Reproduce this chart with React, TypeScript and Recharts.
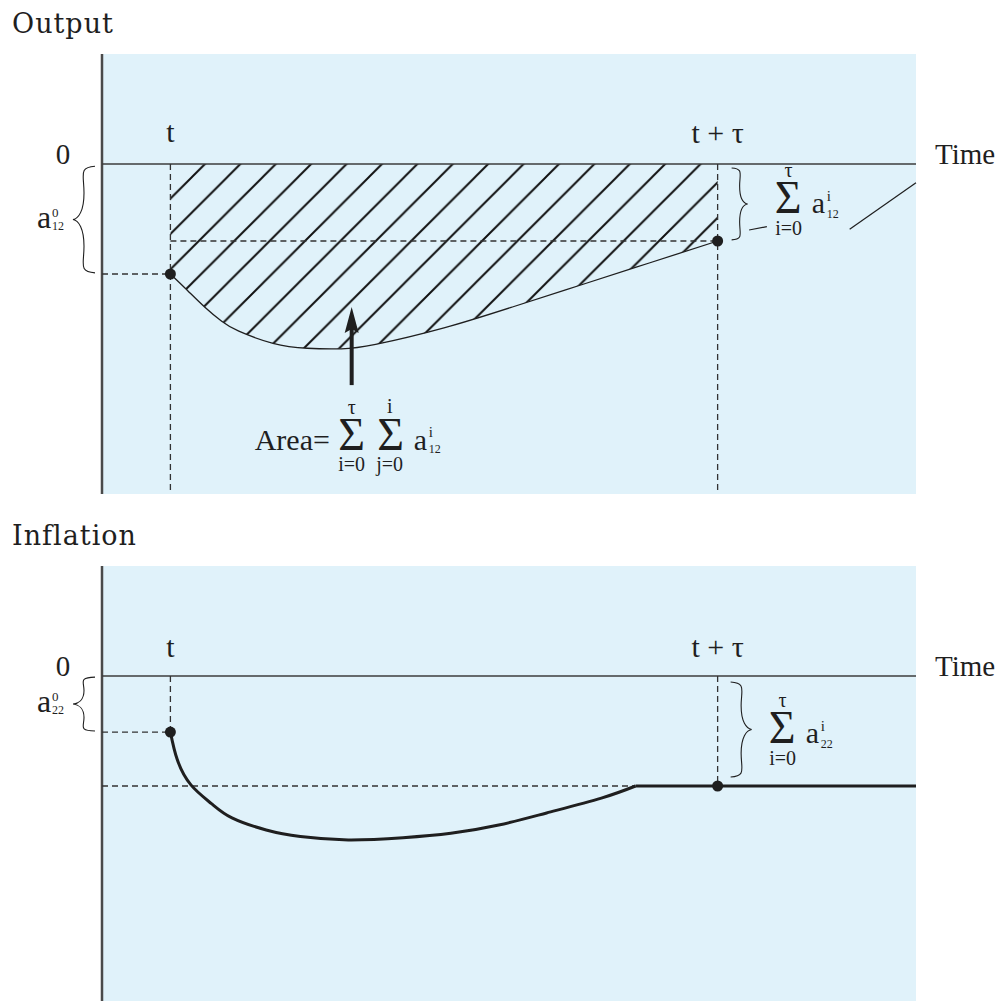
import React from 'react';
import { ComposedChart, Area, Line, XAxis, YAxis, CartesianGrid, ReferenceLine, ReferenceDot } from 'recharts';

// time runs in periods, t = 1 and t + tau = 9
const timeDomain: [number, number] = [0, 11.9];
const valueDomain: [number, number] = [-3, 1];
const markTimes = [1, 9];
const markLabels = ['t', 't + τ'];

// Output response to the shock (hatched area)
const outputTime = [1, 1.25, 1.5, 1.75, 2, 2.5, 3, 3.5, 4, 5, 6, 7, 8, 9];
const outputValue = [-1.0, -1.15, -1.3, -1.43, -1.52, -1.63, -1.675, -1.68, -1.64, -1.49, -1.3, -1.1, -0.9, -0.7];

// Inflation response
const inflationTime = [1, 1.1, 1.3, 1.6, 1.9, 2.4, 2.9, 3.6, 4.4, 5.1, 5.8, 6.5, 7.3, 7.8];
const inflationValue = [-0.51, -0.76, -0.99, -1.16, -1.29, -1.4, -1.46, -1.49, -1.47, -1.43, -1.355, -1.245, -1.11, -1.0];
const plateauTime = [7.8, 9, 11.9];
const plateauValue = [-1.0, -1.0, -1.0];

const outputData = outputTime.map((time, i) => ({ time, value: outputValue[i] }));
const inflationData = inflationTime.map((time, i) => ({ time, value: inflationValue[i] }));
const plateauData = plateauTime.map((time, i) => ({ time, value: plateauValue[i] }));

const INK = '#1f1f1f';
const PANEL = '#e0f2fa';
const SERIF = '"Liberation Serif", "Times New Roman", serif';
const TITLE_FONT = '"DejaVu Serif", serif';
const DASH = '6 4';

function bracePath(x0: number, y1: number, y2: number, w: number) {
  const m = (y1 + y2) / 2;
  const h = y2 - y1;
  const xs = x0 - w * 0.5;
  const xt = x0 - w;
  const xc = x0 - w * 0.75;
  return `M${x0},${y1} C${xc},${y1 + h * 0.01} ${xs},${y1 + h * 0.08} ${xs},${y1 + h * 0.25} ` +
    `C${xs},${y1 + h * 0.42} ${xc},${m - h * 0.01} ${xt},${m} ` +
    `C${xc},${m + h * 0.01} ${xs},${m + h * 0.08} ${xs},${m + h * 0.25} ` +
    `C${xs},${y2 - h * 0.08} ${xc},${y2 - h * 0.01} ${x0},${y2}`;
}

const txt = (x: number, y: number, s: string, size: number, anchor: 'start' | 'middle' = 'start') => (
  <text x={x} y={y} fontSize={size} fontFamily={SERIF} fill={INK} textAnchor={anchor}>{s}</text>
);

const axisShape = (title: string) => (p: any) => {
  const top = Math.min(p.y1, p.y2);
  return (
    <g>
      <line x1={p.x1} y1={p.y1} x2={p.x2} y2={p.y2} stroke="#4a4a4a" strokeWidth={2.5} />
      <text x={p.x1 - 90} y={top - 21} fontSize={27} letterSpacing={1} fontFamily={TITLE_FONT} fill={INK}>{title}</text>
    </g>
  );
};

const zeroShape = (p: any) => {
  const left = Math.min(p.x1, p.x2);
  const right = Math.max(p.x1, p.x2);
  return (
    <g>
      <line x1={p.x1} y1={p.y1} x2={p.x2} y2={p.y2} stroke="#3c3c3c" strokeWidth={1.5} />
      {txt(left - 39, p.y1, '0', 29, 'middle')}
      {txt(right + 19, p.y1, 'Time', 29)}
    </g>
  );
};

const dashed = (p: any) => (
  <line x1={p.x1} y1={p.y1} x2={p.x2} y2={p.y2} stroke="#333" strokeWidth={1.3} strokeDasharray={DASH} />
);

const markShape = (label: string, lift: number) => (p: any) => {
  const top = Math.min(p.y1, p.y2);
  return (
    <g>
      {dashed(p)}
      {txt(p.x1, top - lift, label, 30, 'middle')}
    </g>
  );
};

const leftBraceShape = (sub: string) => (p: any) => {
  const y1 = Math.min(p.y1, p.y2);
  const y2 = Math.max(p.y1, p.y2);
  const x0 = p.x1 - 7;
  const w = 22;
  const mid = (y1 + y2) / 2;
  const ax = x0 - w - 36;
  return (
    <g>
      <path d={bracePath(x0, y1, y2, w)} fill="none" stroke={INK} strokeWidth={1.1} />
      {txt(ax, mid + 8, 'a', 32)}
      {txt(ax + 15, mid - 3, '0', 13)}
      {txt(ax + 15, mid + 10, sub, 12)}
    </g>
  );
};

const sumBraceShape = (sub: string, dx: number, w: number, sumDx: number, sumDy: number) => (p: any) => {
  const y1 = Math.min(p.y1, p.y2);
  const y2 = Math.max(p.y1, p.y2);
  const mid = (y1 + y2) / 2;
  const sx = p.x1 + sumDx;
  const sb = mid + sumDy;
  return (
    <g>
      <path d={bracePath(p.x1 + dx, y1, y2, -w)} fill="none" stroke={INK} strokeWidth={1.1} />
      {txt(sx, sb, 'Σ', 46)}
      {txt(sx + 14, sb - 36, 'τ', 20, 'middle')}
      {txt(sx + 14, sb + 22, 'i=0', 20, 'middle')}
      {txt(sx + 37, sb, 'a', 30)}
      {txt(sx + 52, sb - 12, 'i', 15)}
      {txt(sx + 52, sb + 5, sub, 12)}
    </g>
  );
};

const leader = (p: any) => (
  <line x1={p.x1} y1={p.y1} x2={p.x2} y2={p.y2} stroke={INK} strokeWidth={1.2} />
);

const arrowShape = (p: any) => {
  const x = p.x1;
  const tipY = Math.min(p.y1, p.y2);
  const baseY = Math.max(p.y1, p.y2);
  const fb = baseY + 65;
  return (
    <g>
      <line x1={x} y1={baseY} x2={x} y2={tipY + 20} stroke={INK} strokeWidth={4} />
      <path d={`M${x},${tipY} L${x + 7},${tipY + 26} L${x},${tipY + 22} L${x - 7},${tipY + 26} Z`} fill={INK} />
      {txt(x - 97, fb, 'Area=', 30)}
      {txt(x, fb, 'Σ', 46, 'middle')}
      {txt(x, fb - 36, 'τ', 20, 'middle')}
      {txt(x, fb + 21, 'i=0', 20, 'middle')}
      {txt(x + 39, fb, 'Σ', 46, 'middle')}
      {txt(x + 38, fb - 37, 'i', 20, 'middle')}
      {txt(x + 38, fb + 21, 'j=0', 20, 'middle')}
      {txt(x + 62, fb, 'a', 30)}
      {txt(x + 77, fb - 13, 'i', 15)}
      {txt(x + 77, fb + 3, '12', 12)}
    </g>
  );
};

function OutputPanel() {
  return (
    <ComposedChart width={1000} height={520} data={outputData} margin={{ top: 54, right: 84, bottom: 26, left: 102 }}>
      <defs>
        <pattern id="hatch" patternUnits="userSpaceOnUse" width={35.4} height={35.4} x={15} y={0}>
          <path d="M0,35.4 L35.4,0 M-5,5 L5,-5 M30.4,40.4 L40.4,30.4" stroke="#111" strokeWidth={2} />
        </pattern>
      </defs>
      <CartesianGrid fill={PANEL} fillOpacity={1} stroke="none" horizontal={false} vertical={false} />
      <XAxis type="number" dataKey="time" domain={timeDomain} hide allowDataOverflow />
      <YAxis type="number" domain={valueDomain} hide allowDataOverflow />
      <Area type="natural" dataKey="value" baseValue={0} stroke={INK} strokeWidth={1.3} fill="url(#hatch)"
        fillOpacity={1} dot={false} activeDot={false} isAnimationActive={false} />
      <ReferenceLine x={0} ifOverflow="visible" shape={axisShape('Output')} />
      <ReferenceLine y={0} ifOverflow="visible" shape={zeroShape} />
      <ReferenceLine segment={[{ x: markTimes[0], y: 0 }, { x: markTimes[0], y: valueDomain[0] }]} ifOverflow="visible" shape={markShape(markLabels[0], 22)} />
      <ReferenceLine segment={[{ x: markTimes[1], y: 0 }, { x: markTimes[1], y: valueDomain[0] }]} ifOverflow="visible" shape={markShape(markLabels[1], 21)} />
      <ReferenceLine segment={[{ x: 0, y: outputValue[0] }, { x: markTimes[0], y: outputValue[0] }]} ifOverflow="visible" shape={dashed} />
      <ReferenceLine segment={[{ x: markTimes[0], y: -0.7 }, { x: markTimes[1], y: -0.7 }]} ifOverflow="visible" shape={dashed} />
      <ReferenceLine segment={[{ x: 0, y: -0.02 }, { x: 0, y: -0.99 }]} ifOverflow="visible" shape={leftBraceShape('12')} />
      <ReferenceLine segment={[{ x: markTimes[1], y: -0.036 }, { x: markTimes[1], y: -0.69 }]} ifOverflow="visible" shape={sumBraceShape('12', 14, 16, 57, 9)} />
      <ReferenceLine segment={[{ x: 9.46, y: -0.6 }, { x: 9.72, y: -0.57 }]} ifOverflow="visible" shape={leader} />
      <ReferenceLine segment={[{ x: 10.93, y: -0.594 }, { x: 11.9, y: -0.17 }]} ifOverflow="visible" shape={leader} />
      <ReferenceLine segment={[{ x: 3.65, y: -2.01 }, { x: 3.65, y: -1.3 }]} ifOverflow="visible" shape={arrowShape} />
      <ReferenceDot x={markTimes[0]} y={outputValue[0]} r={5.5} fill={INK} stroke="none" />
      <ReferenceDot x={markTimes[1]} y={outputValue[outputValue.length - 1]} r={5.5} fill={INK} stroke="none" />
    </ComposedChart>
  );
}

function InflationPanel() {
  return (
    <ComposedChart width={1000} height={510} data={inflationData} margin={{ top: 66, right: 84, bottom: 4, left: 102 }}>
      <CartesianGrid fill={PANEL} fillOpacity={1} stroke="none" horizontal={false} vertical={false} />
      <XAxis type="number" dataKey="time" domain={timeDomain} hide allowDataOverflow />
      <YAxis type="number" domain={valueDomain} hide allowDataOverflow />
      <ReferenceLine x={0} ifOverflow="visible" shape={axisShape('Inflation')} />
      <ReferenceLine y={0} ifOverflow="visible" shape={zeroShape} />
      <ReferenceLine segment={[{ x: markTimes[0], y: 0 }, { x: markTimes[0], y: inflationValue[0] }]} ifOverflow="visible" shape={markShape(markLabels[0], 19)} />
      <ReferenceLine segment={[{ x: markTimes[1], y: 0 }, { x: markTimes[1], y: plateauValue[1] }]} ifOverflow="visible" shape={markShape(markLabels[1], 19)} />
      <ReferenceLine segment={[{ x: 0, y: inflationValue[0] }, { x: markTimes[0], y: inflationValue[0] }]} ifOverflow="visible" shape={dashed} />
      <ReferenceLine segment={[{ x: 0, y: plateauValue[0] }, { x: plateauTime[0], y: plateauValue[0] }]} ifOverflow="visible" shape={dashed} />
      <ReferenceLine segment={[{ x: 0, y: -0.01 }, { x: 0, y: -0.5 }]} ifOverflow="visible" shape={leftBraceShape('22')} />
      <ReferenceLine segment={[{ x: markTimes[1], y: -0.055 }, { x: markTimes[1], y: -0.918 }]} ifOverflow="visible" shape={sumBraceShape('22', 13, 21, 51, 13.5)} />
      <Line type="natural" dataKey="value" stroke={INK} strokeWidth={3} dot={false} activeDot={false} isAnimationActive={false} />
      <Line type="linear" data={plateauData} dataKey="value" stroke={INK} strokeWidth={3} dot={false} activeDot={false} isAnimationActive={false} />
      <ReferenceDot x={markTimes[0]} y={inflationValue[0]} r={5.5} fill={INK} stroke="none" />
      <ReferenceDot x={markTimes[1]} y={plateauValue[1]} r={5.5} fill={INK} stroke="none" />
    </ComposedChart>
  );
}

export default function App() {
  return (
    <div style={{ position: 'absolute', left: 0, top: 0, width: 1000, height: 1001, overflow: 'hidden', background: '#fff' }}>
      <div style={{ position: 'absolute', left: 0, top: 0 }}>
        <OutputPanel />
      </div>
      <div style={{ position: 'absolute', left: 0, top: 500 }}>
        <InflationPanel />
      </div>
    </div>
  );
}
